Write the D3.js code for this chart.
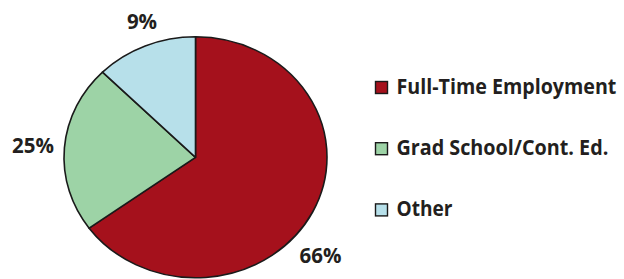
<!DOCTYPE html>
<html>
<head>
<meta charset="utf-8">
<script src="https://cdn.jsdelivr.net/npm/d3@7"></script>
<style>
  html, body { margin: 0; padding: 0; background: #ffffff; }
  svg { display: block; }
  text { font-family: "Open Sans", "DejaVu Sans", sans-serif; font-weight: 700; fill: #231f20; }
</style>
</head>
<body>
<svg id="chart" width="624" height="279"></svg>
<script>
// Data
const categories = ["Full-Time Employment", "Grad School/Cont. Ed.", "Other"];
const sliceValues = [65, 22.5, 12.5];
const sliceLabels = ["66%", "25%", "9%"];
const colors = ["#a5111c", "#9dd3a6", "#b7e0ea"];

const svg = d3.select("#chart");

// Layout
const cx = 195.5, cy = 157.3, rx = 131.5, ry = 120.5;

const pie = d3.pie().sort(null).value(d => d)(sliceValues);
const arc = d3.arc().innerRadius(0).outerRadius(rx);
const color = d3.scaleOrdinal().domain(categories).range(colors);

const g = svg.append("g")
  .attr("transform", `translate(${cx},${cy}) scale(1,${ry / rx})`);

g.selectAll("path")
  .data(pie)
  .join("path")
  .attr("d", arc)
  .attr("fill", (d, i) => color(categories[i]))
  .attr("stroke", "#1a1a1a")
  .attr("stroke-width", 1.6)
  .attr("vector-effect", "non-scaling-stroke")
  .attr("stroke-linejoin", "round");

// Slice labels (positions by layout)
const labelPos = [
  { x: 320.5, y: 263 },
  { x: 33, y: 152.5 },
  { x: 142, y: 28.5 }
];
svg.selectAll("text.slabel")
  .data(sliceLabels)
  .join("text")
  .attr("class", "slabel")
  .attr("x", (d, i) => labelPos[i].x)
  .attr("y", (d, i) => labelPos[i].y)
  .attr("text-anchor", "middle")
  .attr("font-size", 20.5)
  .text(d => d);

// Legend
const legendX = 375, legendTop = 94, legendStep = 61.2;
const legendWidths = [220, 212, 56];
const items = svg.append("g").selectAll("g.item")
  .data(categories)
  .join("g")
  .attr("class", "item")
  .attr("transform", (d, i) => `translate(${legendX},${legendTop + i * legendStep})`);

items.append("rect")
  .attr("x", 0.5)
  .attr("y", -12.5)
  .attr("width", 12)
  .attr("height", 12)
  .attr("fill", d => color(d))
  .attr("stroke", "#1a1a1a")
  .attr("stroke-width", 1.4);

items.append("text")
  .attr("font-size", 21)
  .text(d => d)
  .each(function (d, i) {
    const w = this.getComputedTextLength();
    const k = Math.min(1, legendWidths[i] / w);
    d3.select(this).attr("transform", `translate(21.5,0) scale(${k},1)`);
  });
</script>
</body>
</html>
